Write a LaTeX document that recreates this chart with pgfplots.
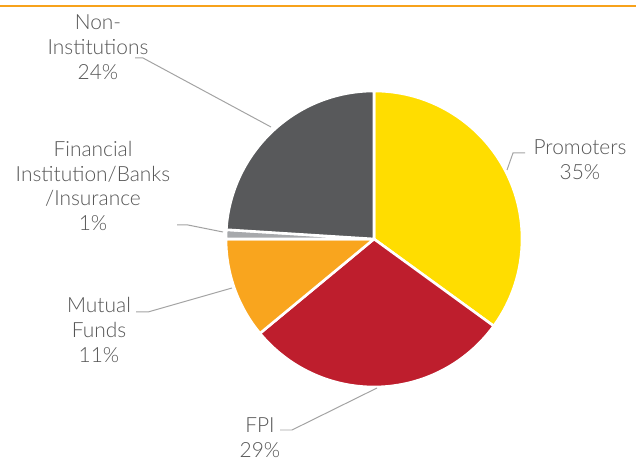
\documentclass[border=0pt]{standalone}
\usepackage{pgfplots}
\usepackage{pgfplotstable}
\pgfplotsset{compat=1.18}
\usepackage{fontspec}
\setmainfont{Lato}[UprightFont={* Light}]

\definecolor{cProm}{HTML}{FFDD00}
\definecolor{cFPI}{HTML}{BE1E2D}
\definecolor{cMF}{HTML}{F9A51E}
\definecolor{cFI}{HTML}{A7A9AC}
\definecolor{cNon}{HTML}{58595B}
\definecolor{txt}{HTML}{555555}
\definecolor{lead}{HTML}{A3A3A3}
\definecolor{topline}{HTML}{F7A21B}

% shares in %, clockwise from 12 o'clock
\pgfplotstableread{
share color
35 cProm
29 cFPI
11 cMF
1  cFI
24 cNon
}\shares

\begin{document}
\begin{tikzpicture}[lbl/.style={font=\fontsize{21}{25}\selectfont, text=txt, align=center}]
% build the wedges from the table
\pgfplotstablegetrowsof{\shares}
\pgfmathtruncatemacro\nrows{\pgfplotsretval-1}
\gdef\angstart{90}
\gdef\allwedges{}
\pgfplotsforeachungrouped \i in {0,...,\nrows}{%
  \pgfplotstablegetelem{\i}{share}\of\shares \let\val\pgfplotsretval
  \pgfplotstablegetelem{\i}{color}\of\shares \let\col\pgfplotsretval
  \pgfmathsetmacro\angend{\angstart-3.6*\val}%
  \xdef\allwedges{\unexpanded\expandafter{\allwedges}%
    \noexpand\fill[\col, draw=white, line width=2.6pt, line join=round]
      (axis cs:374,224) -- ++(\angstart:148bp)
      arc[start angle=\angstart, end angle=\angend, radius=148bp] -- cycle;}%
  \global\let\angstart\angend
}
\begin{axis}[
  width=636bp, height=463bp, scale only axis,
  xmin=0, xmax=636, ymin=0, ymax=463,
  axis lines=none, clip=false,
]
\draw[topline, line width=1.6pt] (axis cs:0,457) -- (axis cs:636,457);
\allwedges
% leader lines
\draw[lead, line width=1pt] (axis cs:135,405) -- (axis cs:143,405) -- (axis cs:271,336);
\draw[lead, line width=1pt] (axis cs:177,238) -- (axis cs:188,238) -- (axis cs:223,231);
\draw[lead, line width=1pt] (axis cs:136,151) -- (axis cs:148,151) -- (axis cs:232,175);
\draw[lead, line width=1pt] (axis cs:280,33) -- (axis cs:292,33) -- (axis cs:377,75);
\draw[lead, line width=1pt] (axis cs:525,310) -- (axis cs:513,310) -- (axis cs:507,293);
% labels
\node[lbl] at (axis cs:98,416) {Non-\\Institutions\\24\%};
\node[lbl] at (axis cs:93,277) {Financial\\Institution/Banks\\/Insurance\\1\%};
\node[lbl] at (axis cs:99,133) {Mutual\\Funds\\11\%};
\node[lbl] at (axis cs:260,25) {FPI\\29\%};
\node[lbl] at (axis cs:580,303) {Promoters\\35\%};
\end{axis}
\pgfresetboundingbox
\path (0,0) rectangle (636bp,463bp);
\end{tikzpicture}
\end{document}
